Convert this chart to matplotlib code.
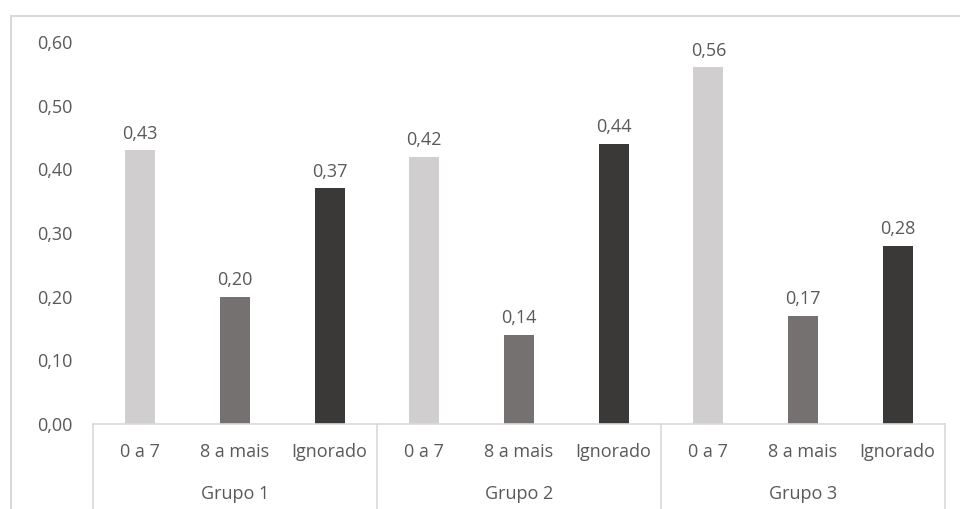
import numpy as np
import matplotlib.pyplot as plt
from matplotlib.transforms import blended_transform_factory
from matplotlib.patches import Rectangle

# Data
groups = ['Grupo 1', 'Grupo 2', 'Grupo 3']
subcats = ['0 a 7', '8 a mais', 'Ignorado']
values = [
    [0.43, 0.20, 0.37],
    [0.42, 0.14, 0.44],
    [0.56, 0.17, 0.28],
]
colors = ['#D0CECE', '#767171', '#3B3838']
yticks = [0.0, 0.1, 0.2, 0.3, 0.4, 0.5, 0.6]

plt.rcParams['font.family'] = ['Open Sans', 'DejaVu Sans']
text_color = '#595959'
line_color = '#D9D9D9'
fs = 13

fig = plt.figure(figsize=(9.6, 5.09), dpi=100)
ax = fig.add_axes([93 / 960, 1 - 424 / 509, (945 - 93) / 960, (424 - 42) / 509])

# Bars
for gi, grp in enumerate(values):
    for si, v in enumerate(grp):
        x = gi * len(subcats) + si
        ax.bar(x, v, width=0.32, color=colors[si], zorder=2)
        ax.text(x, v + 0.012, f'{v:.2f}'.replace('.', ','), ha='center', va='bottom',
                fontsize=fs, color=text_color)

n = len(groups) * len(subcats)
ax.set_xlim(-0.5, n - 0.5)
ax.set_ylim(0, 0.6)
ax.set_yticks(yticks)
ax.set_yticklabels([f'{t:.2f}'.replace('.', ',') for t in yticks], fontsize=fs, color=text_color)
ax.tick_params(axis='y', length=0, pad=15)
ax.set_xticks([])
for s in ['top', 'right', 'left']:
    ax.spines[s].set_visible(False)
ax.spines['bottom'].set_color(line_color)
ax.spines['bottom'].set_linewidth(1.2)

# Two-level category axis
tr = blended_transform_factory(ax.transData, fig.transFigure)
y_base = 1 - 424 / 509
for b in np.arange(-0.5, n, len(subcats)):
    ax.plot([b, b], [0, y_base], transform=tr, color=line_color, lw=1.2, clip_on=False)
for gi, grp in enumerate(groups):
    for si, sc in enumerate(subcats):
        x = gi * len(subcats) + si
        ax.text(x, 1 - 452 / 509, sc, transform=tr, ha='center', va='center',
                fontsize=fs, color=text_color)
    ax.text(gi * len(subcats) + 1, 1 - 494 / 509, grp, transform=tr, ha='center',
            va='center', fontsize=fs, color=text_color)

# Chart-area frame (cropped at right and bottom)
fig.patches.append(Rectangle((11 / 960, -0.1), 1.0, 1 - 16 / 509 + 0.1,
                             transform=fig.transFigure, fill=False,
                             edgecolor=line_color, lw=1.5))

fig.savefig('out.png', dpi=100, facecolor='white')
